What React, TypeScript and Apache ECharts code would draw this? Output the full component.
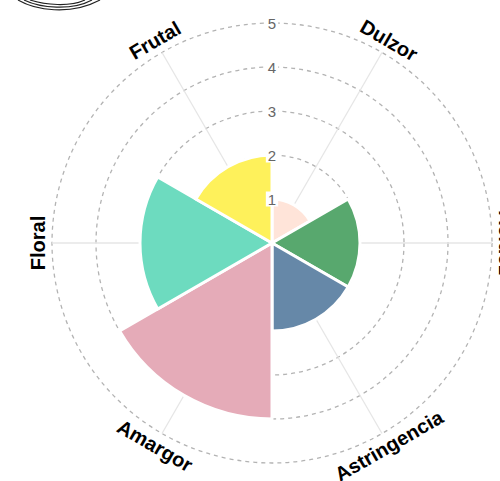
import React, { useEffect, useRef } from "react";
import * as echarts from "echarts";

const categories = ["Dulzor", "Acidez", "Astringencia", "Amargor", "Floral", "Frutal"];
const values = [1, 2, 2, 4, 3, 2];
const barColors = ["#FFE4D9", "#58A86E", "#6688A8", "#E5ABB8", "#6DDBBF", "#FEF15B"];
const radiusTicks = [0, 1, 2, 3, 4, 5];

const CX = 272;
const CY = 243;
const R = 220;
const LABEL_R = 234;

export default function App() {
  const ref = useRef<HTMLDivElement>(null);
  useEffect(() => {
    if (!ref.current) return;
    const chart = echarts.init(ref.current, undefined, { renderer: "svg" });
    const n = categories.length;
    const labelGraphics = categories.map((name, i) => {
      const angDeg = 90 - (360 / n) * (i + 0.5);
      const a = ((angDeg % 360) + 360) % 360;
      const rad = (a * Math.PI) / 180;
      let rot = a > 180 && a < 360 ? a - 270 : a - 90;
      if (a === 0) rot = -90;
      return {
        type: "text",
        x: CX + LABEL_R * Math.cos(rad),
        y: CY - LABEL_R * Math.sin(rad),
        rotation: (rot * Math.PI) / 180,
        style: {
          text: name,
          fontSize: 20,
          fontWeight: "bold",
          fontFamily: "Liberation Sans, Arial, sans-serif",
          fill: "#000",
          align: "center",
          verticalAlign: "middle",
        },
        z: 20,
      };
    });
    const logo = [
      { x1: 18, y1: 0, cpx1: 35, cpy1: 10, cpx2: 70, cpy2: 16, x2: 100, y2: 0 },
      { x1: 24, y1: 0, cpx1: 40, cpy1: 8, cpx2: 72, cpy2: 11, x2: 92, y2: 0 },
      { x1: 30, y1: 0, cpx1: 45, cpy1: 5, cpx2: 70, cpy2: 7, x2: 85, y2: 0 },
    ].map((shape) => ({
      type: "bezierCurve",
      shape,
      style: { stroke: "#222", lineWidth: 1.2, fill: "none" },
    }));
    chart.setOption({
      animation: false,
      backgroundColor: "#fff",
      polar: [
        { center: [CX, CY], radius: R },
        { center: [CX, CY], radius: R },
      ],
      angleAxis: [
        {
          polarIndex: 0,
          type: "category",
          data: categories,
          startAngle: 120,
          boundaryGap: true,
          axisLine: { show: false },
          axisTick: { show: false },
          axisLabel: { show: false },
          splitLine: { show: true, lineStyle: { color: "#e6e6e6", width: 1.3, type: "solid" } },
          z: 0,
        },
        {
          polarIndex: 1,
          type: "category",
          data: categories,
          startAngle: 90,
          boundaryGap: true,
          axisLine: { show: false },
          axisTick: { show: false },
          axisLabel: { show: false },
          splitLine: { show: false },
        },
      ],
      radiusAxis: [
        {
          polarIndex: 0,
          min: 0,
          max: 5,
          interval: 1,
          axisLine: { show: false },
          axisTick: { show: false },
          axisLabel: { show: false },
          splitLine: { show: true, lineStyle: { color: "#b3b3b3", type: [4, 4], width: 1.3 } },
          z: 0,
        },
        {
          polarIndex: 1,
          min: 0,
          max: 5,
          interval: 1,
          axisLine: { show: false },
          axisTick: { show: false },
          splitLine: { show: false },
          axisLabel: {
            show: true,
            showMinLabel: false,
            margin: 0,
            align: "center",
            verticalAlign: "middle",
            color: "#666666",
            fontSize: 15,
            fontFamily: "Liberation Sans, Arial, sans-serif",
            backgroundColor: "#fff",
            padding: [0, 2],
            formatter: (v: number) => (radiusTicks.includes(v) ? String(v) : ""),
          },
          z: 10,
        },
      ],
      series: [
        {
          type: "bar",
          coordinateSystem: "polar",
          polarIndex: 1,
          barCategoryGap: "0%",
          data: values.map((v, i) => ({ value: v, itemStyle: { color: barColors[i] } })),
          itemStyle: { borderColor: "#fff", borderWidth: 3 },
          z: 2,
        },
      ],
      graphic: [...logo, ...labelGraphics],
    });
    return () => chart.dispose();
  }, []);
  return (
    <div
      ref={ref}
      style={{ position: "fixed", left: 0, top: 0, width: 500, height: 481 }}
    />
  );
}
